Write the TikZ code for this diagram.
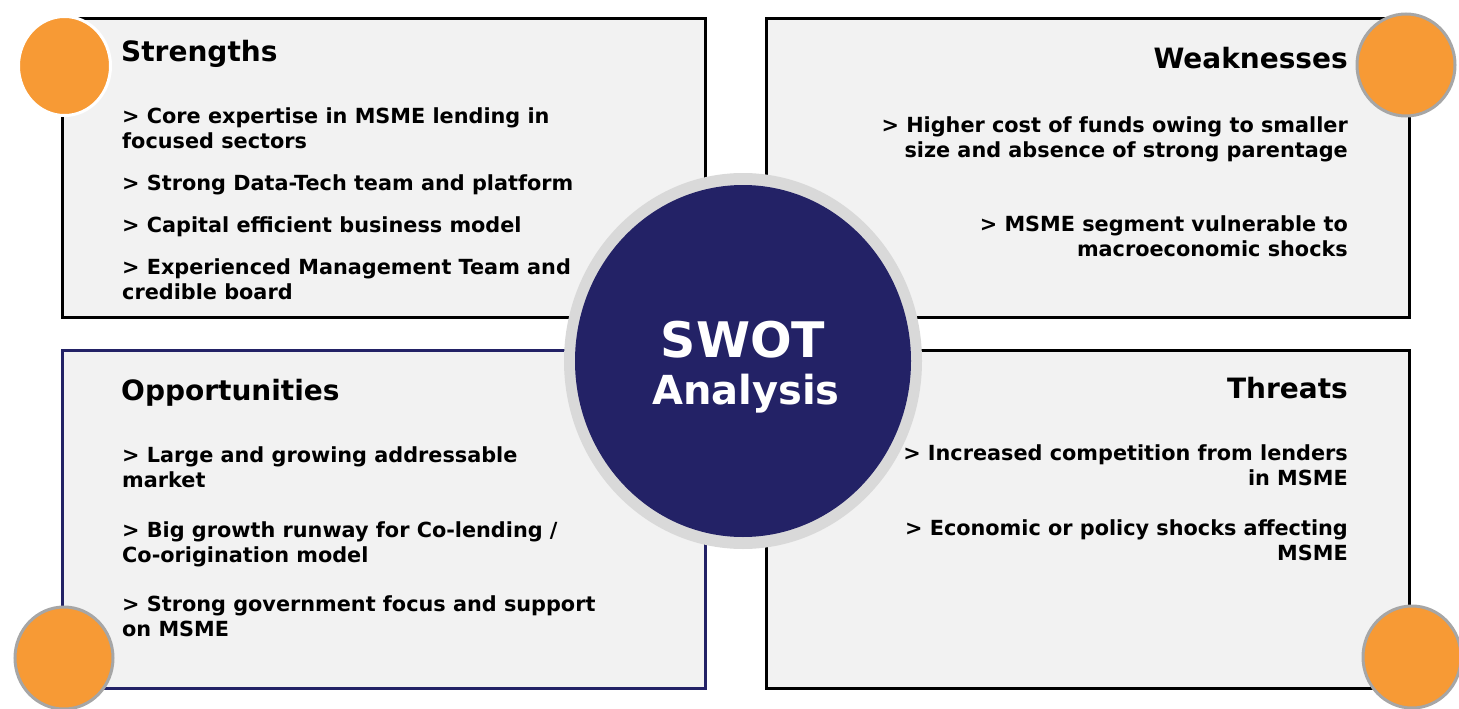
\documentclass[tikz,border=0pt]{standalone}
\usepackage{fontspec}
\setmainfont{DejaVu Sans}
\usetikzlibrary{shapes.geometric}
\definecolor{panelfill}{HTML}{F2F2F2}
\definecolor{navy}{HTML}{232266}
\definecolor{ringgray}{HTML}{D9D9D9}
\definecolor{dotorange}{HTML}{F79A35}
\definecolor{dotrim}{HTML}{A6A6A6}
\tikzset{
  panel/.style={draw=black, line width=3pt, fill=panelfill, rectangle, inner sep=0pt},
  dot/.style={ellipse, fill=dotorange, draw=dotrim, line width=3pt, inner sep=0pt,
              minimum width=98pt, minimum height=102pt},
  heading/.style={inner sep=0pt, font=\fontsize{28}{34}\selectfont\bfseries},
  item/.style={inner sep=0pt, font=\fontsize{20.8}{25}\selectfont\bfseries},
}
\begin{document}
\begin{tikzpicture}[x=1pt, y=-1pt]
\useasboundingbox (0,0) rectangle (1459,709);
% four quadrant panels
\node[panel, minimum width=643pt, minimum height=298pt] (sbox) at (383.5,168) {};
\node[panel, minimum width=643pt, minimum height=298pt] (wbox) at (1087.5,168) {};
\node[panel, draw=navy, minimum width=643pt, minimum height=338pt] (obox) at (383.5,519) {};
\node[panel, minimum width=643pt, minimum height=338pt] (tbox) at (1087.5,519) {};
% corner dots
\node[dot, draw=white, minimum width=92pt, minimum height=99pt] (sdot) at (64.5,66) {};
\node[dot] (wdot) at (1406,65) {};
\node[dot] (odot) at (64,658) {};
\node[dot] (tdot) at (1412,657) {};
% central badge
\node[ellipse, fill=ringgray, inner sep=0pt, minimum width=358pt, minimum height=376pt] (ring) at (743,361) {};
\node[ellipse, fill=navy, inner sep=0pt, minimum width=336pt, minimum height=352pt] (core) at (743,361) {};
\node[anchor=base, inner sep=0pt, text=white, font=\fontsize{49}{55}\selectfont\bfseries] (swot) at (743,357) {SWOT};
\node[anchor=base, inner sep=0pt, text=white, font=\fontsize{40}{45}\selectfont\bfseries] (analysis) at (746,404) {Analysis};
% Strengths (multi-line items are placed by the baseline of their last line)
\node[heading, anchor=base west] (sh) at (121,62) {Strengths};
\node[item, anchor=base west, align=left] (s1) at (122,148) {> Core expertise in MSME lending in\\focused sectors};
\node[item, anchor=base west, align=left] (s2) at (122,190) {> Strong Data-Tech team and platform};
\node[item, anchor=base west, align=left] (s3) at (122,232) {> Capital efficient business model};
\node[item, anchor=base west, align=left] (s4) at (122,299) {> Experienced Management Team and\\credible board};
% Weaknesses
\node[heading, anchor=base east] (wh) at (1348,69) {Weaknesses};
\node[item, anchor=base east, align=right] (w1) at (1348,157) {> Higher cost of funds owing to smaller\\size and absence of strong parentage};
\node[item, anchor=base east, align=right] (w2) at (1348,256) {> MSME segment vulnerable to\\macroeconomic shocks};
% Opportunities
\node[heading, anchor=base west] (oh) at (121,400) {Opportunities};
\node[item, anchor=base west, align=left] (o1) at (122,487) {> Large and growing addressable\\market};
\node[item, anchor=base west, align=left] (o2) at (122,562) {> Big growth runway for Co-lending /\\Co-origination model};
\node[item, anchor=base west, align=left] (o3) at (122,636) {> Strong government focus and support\\on MSME};
% Threats
\node[heading, anchor=base east] (th) at (1348,398) {Threats};
\node[item, anchor=base east, align=right] (t1) at (1348,485) {> Increased competition from lenders\\in MSME};
\node[item, anchor=base east, align=right] (t2) at (1348,560) {> Economic or policy shocks affecting\\MSME};
\end{tikzpicture}
\end{document}
